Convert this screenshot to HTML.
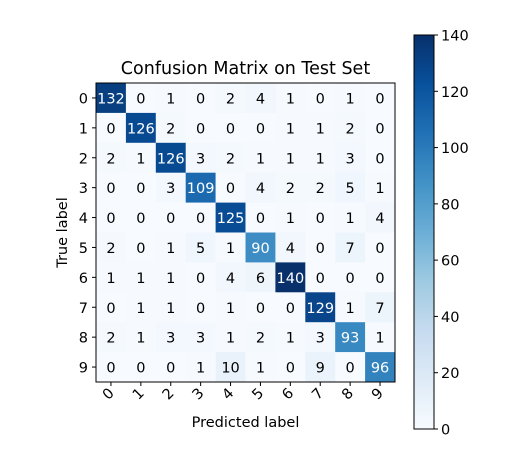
<!DOCTYPE html>
<html><head><meta charset="utf-8"><style>
body{margin:0;background:#fff;}
svg{display:block;font-family:"DejaVu Sans","Liberation Sans",sans-serif;}
</style></head><body>
<svg id="c" width="521" height="457"></svg>
<script>
const classLabels=["0","1","2","3","4","5","6","7","8","9"];
const matrix=[
[132,0,1,0,2,4,1,0,1,0],
[0,126,2,0,0,0,1,1,2,0],
[2,1,126,3,2,1,1,1,3,0],
[0,0,3,109,0,4,2,2,5,1],
[0,0,0,0,125,0,1,0,1,4],
[2,0,1,5,1,90,4,0,7,0],
[1,1,1,0,4,6,140,0,0,0],
[0,1,1,0,1,0,0,129,1,7],
[2,1,3,3,1,2,1,3,93,1],
[0,0,0,1,10,1,0,9,0,96]];
const cbTicks=[0,20,40,60,80,100,120,140];
const vmax=140;
const NS="http://www.w3.org/2000/svg";
const svg=document.getElementById('c');
const stops=["#f7fbff","#deebf7","#c6dbef","#9ecae1","#6baed6","#4292c6","#2171b5","#08519c","#08306b"];
function hex(h){return [1,3,5].map(i=>parseInt(h.substr(i,2),16));}
function cmap(t){t=Math.max(0,Math.min(1,t));const p=t*8,i=Math.min(7,Math.floor(p)),f=p-i;const a=hex(stops[i]),b=hex(stops[i+1]);return `rgb(${a.map((v,k)=>Math.round(v+(b[k]-v)*f)).join(',')})`;}
function el(tag,attrs,txt){const e=document.createElementNS(NS,tag);for(const k in attrs)e.setAttribute(k,attrs[k]);if(txt!==undefined)e.textContent=txt;svg.appendChild(e);return e;}
const L=96,T=83,W=299,H=299,n=classLabels.length,cw=W/n,ch=H/n,FS=14.5;
const xPos=j=>L+j*cw, yPos=i=>T+i*ch;
matrix.forEach((row,i)=>row.forEach((v,j)=>{
  const r=el('rect',{x:xPos(j),y:yPos(i),width:cw+0.3,height:ch+0.3,fill:cmap(v/vmax)});
  
  
  const t=el('text',{x:xPos(j)+cw/2,y:yPos(i)+ch/2+5.5,'text-anchor':'middle','font-size':FS,fill:v>vmax/2?'#fff':'#000'},v);
  
  
}));
const fr=el('rect',{x:L,y:T,width:W,height:H,fill:'none',stroke:'#000','stroke-width':1});


classLabels.forEach((lab,k)=>{
  el('line',{x1:L-4,x2:L,y1:yPos(k)+ch/2,y2:yPos(k)+ch/2,stroke:'#000'});
  const yl=el('text',{x:L-8,y:yPos(k)+ch/2+5.5,'text-anchor':'end','font-size':FS},lab);
  
  
  const cx=xPos(k)+cw/2;
  el('line',{x1:cx,x2:cx,y1:T+H,y2:T+H+4,stroke:'#000'});
  const xl=el('text',{x:cx+4,y:T+H+12,'text-anchor':'end','font-size':FS,transform:`rotate(-45 ${cx+4} ${T+H+12})`},lab);
  
  
});
const tt=el('text',{x:L+W/2,y:T-9,'text-anchor':'middle','font-size':17.5},'Confusion Matrix on Test Set');


const xt=el('text',{x:L+W/2,y:427,'text-anchor':'middle','font-size':FS},'Predicted label');


const yt=el('text',{x:67,y:T+H/2,'text-anchor':'middle','font-size':FS,transform:`rotate(-90 67 ${T+H/2})`},'True label');


const CL=414,CT=35,CW=20,CH=394;
const defs=el('defs',{});
const g=document.createElementNS(NS,'linearGradient');g.setAttribute('id','gr');g.setAttribute('x1',0);g.setAttribute('y1',1);g.setAttribute('x2',0);g.setAttribute('y2',0);
stops.forEach((s,i)=>{const st=document.createElementNS(NS,'stop');st.setAttribute('offset',i/8);st.setAttribute('stop-color',s);g.appendChild(st);});
defs.appendChild(g);
const cb=el('rect',{x:CL,y:CT,width:CW,height:CH,fill:'url(#gr)',stroke:'#000','stroke-width':1});


const cy=v=>CT+CH-v/vmax*CH;
cbTicks.forEach(v=>{
  el('line',{x1:CL+CW,x2:CL+CW+4,y1:cy(v),y2:cy(v),stroke:'#000'});
  const t=el('text',{x:CL+CW+7,y:cy(v)+5.5,'font-size':FS},v);
  
  
});
</script>
</body></html>
